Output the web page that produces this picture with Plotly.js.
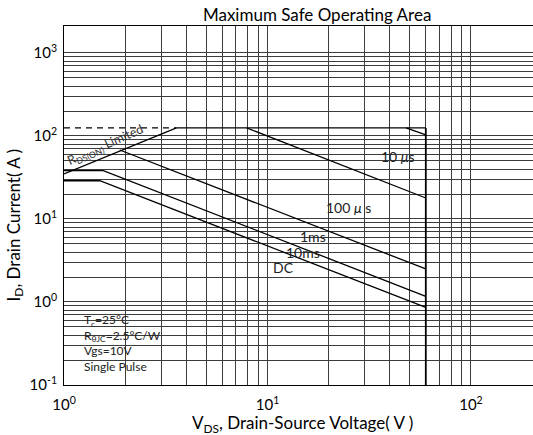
<!DOCTYPE html>
<html><head><meta charset="utf-8">
<script src="https://cdn.plot.ly/plotly-3.0.1.min.js"></script>
<style>html,body{margin:0;padding:0;background:#fff}#chart{width:533px;height:435px}</style>
</head><body><div id="chart"></div>
<script>
// ---- data (V in volts, I in amps) ----
const rdsV = [1, 3.57];
const rdsI = [35, 125];
const dashV = [1, 3.57];
const dashI = [125, 125];
const topV = [3.57, 60];
const topI = [125, 125];
const bvV = [60, 60];
const bvI = [125, 0.1];
const us10V = [48, 60];
const us10I = [125, 103];
const us100V = [7.9, 60];
const us100I = [125, 17.9];
const ms1V = [1.88, 60];
const ms1I = [67.8, 2.5];
const ms10V = [1, 1.56, 60];
const ms10I = [38.2, 38.2, 1.17];
const dcV = [1, 1.5, 60];
const dcI = [28.9, 28.9, 0.86];

const curveLabels = ['10 <i>μ</i>s', '100 <i>μ</i> s', '1ms', '10ms', 'DC'];
const curveLabelV = [43.9, 24.9, 16.8, 15.0, 12.0];
const curveLabelI = [56.9, 13.8, 6.19, 3.97, 2.62];

const xTickVals = [1, 10, 100];
const xTickText = ['10<sup>0</sup>', '10<sup>1</sup>', '10<sup>2</sup>'];
const xMinorVals = [2,3,4,5,6,7,8,9,20,30,40,50,60,70,80,90];
const yTickVals = [0.1, 1, 10, 100, 1000];
const yTickText = ['10<sup>-1</sup>', '10<sup>0</sup>', '10<sup>1</sup>', '10<sup>2</sup>', '10<sup>3</sup>'];
const yMinorVals = [0.2,0.3,0.4,0.5,0.6,0.7,0.8,0.9,2,3,4,5,6,7,8,9,20,30,40,50,60,70,80,90,200,300,400,500,600,700,800,900];

const FONT = 'Lato, "Open Sans", sans-serif';
const GRID = '#3c3c3c';
const lineStyle = {color: '#000', width: 1.3};
function tr(x, y, extra) {
  return Object.assign({x: x, y: y, type: 'scatter', mode: 'lines', line: lineStyle, hoverinfo: 'skip', showlegend: false}, extra || {});
}
const traces = [
  tr(dashV, dashI, {line: {color: '#000', width: 1.2, dash: '6px,5px'}}),
  tr(rdsV, rdsI),
  tr(topV, topI),
  tr(bvV, bvI, {line: {color: '#000', width: 1.8}}),
  tr(us10V, us10I),
  tr(us100V, us100I),
  tr(ms1V, ms1I),
  tr(ms10V, ms10I),
  tr(dcV, dcI)
];

const annotations = curveLabels.map((t, i) => ({
  text: t, x: Math.log10(curveLabelV[i]), y: Math.log10(curveLabelI[i]), xref: 'x', yref: 'y',
  showarrow: false, font: {family: FONT, size: 14, color: '#222'}, xanchor: 'center', yanchor: 'middle'
}));
annotations.push({
  text: 'R<sub>DS(ON)</sub> Limited', x: Math.log10(1.6), y: Math.log10(76), xref: 'x', yref: 'y',
  showarrow: false, textangle: -24, font: {family: FONT, size: 12.5, color: '#333'}
});
annotations.push({
  text: 'T<sub>c</sub>=25°C<br>R<sub>θJC</sub>=2.5°C/W<br>Vgs=10V<br>Single Pulse',
  x: 0.038, y: 0.117, xref: 'paper', yref: 'paper', xanchor: 'left', yanchor: 'middle', align: 'left',
  showarrow: false, font: {family: FONT, size: 12, color: '#222'}
});
annotations.push({
  text: 'V<sub>DS</sub>, Drain-Source Voltage( V )', x: 0.509, y: -0.108, xref: 'paper', yref: 'paper',
  xanchor: 'center', yanchor: 'middle', showarrow: false, font: {family: FONT, size: 17, color: '#000'}
});
annotations.push({
  text: 'I<sub>D</sub>, Drain Current( A )', x: -0.1055, y: 0.446, xref: 'paper', yref: 'paper',
  xanchor: 'center', yanchor: 'middle', textangle: -90, showarrow: false, font: {family: FONT, size: 17, color: '#000'}
});

function axis(range, vals, text, minorVals, standoff) {
  return {type: 'log', range: range, tickmode: 'array', tickvals: vals, ticktext: text, ticks: '',
    showgrid: true, gridcolor: GRID, gridwidth: 1, zeroline: false,
    minor: {tickmode: 'array', tickvals: minorVals, showgrid: true, gridcolor: GRID, gridwidth: 1, ticks: ''},
    showline: true, linecolor: '#000', linewidth: 1,
    tickfont: {family: FONT, size: 15, color: '#000'}, ticklabelstandoff: standoff, fixedrange: true};
}
const xaxis = axis([0, 2.305], xTickVals, xTickText, xMinorVals, 6);
xaxis.mirror = true;
const yaxis = axis([-1, 3.325], yTickVals, yTickText, yMinorVals, 3);
yaxis.mirror = false;

const layout = {
  width: 533, height: 435,
  margin: {l: 64, r: 0, t: 26, b: 50},
  paper_bgcolor: '#fff', plot_bgcolor: '#fff',
  title: {text: 'Maximum Safe Operating Area', x: 0.595, xanchor: 'center', y: 0.965, yanchor: 'middle',
          font: {family: FONT, size: 17, color: '#000'}},
  xaxis: xaxis,
  yaxis: yaxis,
  annotations: annotations,
  showlegend: false
};
Plotly.newPlot('chart', traces, layout, {displayModeBar: false, staticPlot: true});
</script>
</body></html>
